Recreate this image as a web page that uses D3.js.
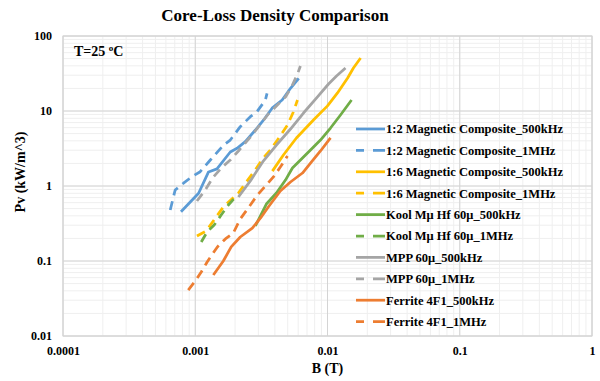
<!DOCTYPE html>
<html>
<head>
<meta charset="utf-8">
<script src="https://cdn.jsdelivr.net/npm/d3@7"></script>
<style>
  body { margin: 0; background: #fff; }
  text { font-family: "Liberation Serif", "Times New Roman", serif; font-weight: bold; fill: #000; }
</style>
</head>
<body>
<div id="chart"></div>
<script>
// data: [B (T), Pv (kW/m^3)]
var mc12_500k = [[0.00078,0.454],[0.00106,0.80],[0.00126,1.54],[0.00146,1.69],[0.00184,2.84],[0.00207,3.18],[0.00239,3.90],[0.00285,5.58],[0.00329,7.59],[0.00381,10.9],[0.00454,14.0],[0.00525,20.1],[0.00606,27.3]];
var mc12_1M = [[0.000647,0.479],[0.000705,0.885],[0.000815,1.09],[0.000944,1.33],[0.00109,1.55],[0.0013,2.22],[0.00164,3.52],[0.00184,4.1],[0.00219,6.18],[0.00261,8.4],[0.00293,9.8],[0.00339,14.0],[0.00349,17.2]];
var mc16_500k = [[0.00383,1.58],[0.00464,2.59],[0.00582,4.37],[0.00783,7.59],[0.01,11.7],[0.0119,17.4],[0.0142,27.5],[0.0157,37.4],[0.0178,50.9]];
var mc16_1M = [[0.00103,0.215],[0.00121,0.251],[0.00163,0.525],[0.00212,0.807],[0.00243,1.13],[0.0028,1.58],[0.00327,2.36],[0.0037,3.02],[0.00418,4.1],[0.00498,6.5],[0.00552,9.7],[0.00593,14.0]];
var kool_500k = [[0.00285,0.293],[0.00345,0.575],[0.00411,0.807],[0.00481,1.2],[0.00543,1.74],[0.00647,2.36],[0.00744,3.02],[0.00885,4.1],[0.01054,5.93],[0.01254,8.85],[0.0152,14.0]];
var kool_1M = [[0.00111,0.179],[0.00123,0.244],[0.00139,0.302],[0.00157,0.41],[0.00178,0.558],[0.00205,0.736]];
var mpp_500k = [[0.00212,0.714],[0.00261,1.17],[0.00327,2.15],[0.00411,3.52],[0.00525,5.75],[0.00658,9.4],[0.0084,15.4],[0.01018,22.9],[0.0117,29.3],[0.01368,37.4]];
var mpp_1M = [[0.00103,0.631],[0.00119,0.885],[0.00137,1.32],[0.0016,1.79],[0.00184,2.22],[0.00212,2.93],[0.00261,4.5],[0.003,6.12],[0.00357,9.12],[0.00418,12.0],[0.00481,15.4],[0.00534,20.9],[0.00593,31.1],[0.00624,39.8]];
var ferrite_500k = [[0.00137,0.065],[0.00163,0.1],[0.00187,0.154],[0.00219,0.209],[0.0027,0.275],[0.00312,0.375],[0.00357,0.525],[0.0044,0.858],[0.00525,1.13],[0.00647,1.49],[0.00757,2.09],[0.00885,2.93],[0.01054,4.37]];
var ferrite_1M = [[0.000885,0.041],[0.001,0.054],[0.00111,0.0713],[0.00123,0.097],[0.00135,0.124],[0.00147,0.154],[0.00169,0.197],[0.00194,0.236],[0.00219,0.363],[0.00261,0.558],[0.00295,0.758],[0.00339,1.0],[0.0039,1.32],[0.0044,1.79],[0.00498,2.51]];

var seriesNames = ["1:2 Magnetic Composite_500kHz", "1:2 Magnetic Composite_1MHz",
  "1:6 Magnetic Composite_500kHz", "1:6 Magnetic Composite_1MHz",
  "Kool M\u03bc Hf 60\u03bc_500kHz", "Kool M\u03bc Hf 60\u03bc_1MHz",
  "MPP 60\u03bc_500kHz", "MPP 60\u03bc_1MHz",
  "Ferrite 4F1_500kHz", "Ferrite 4F1_1MHz"];
var seriesData = [mc12_500k, mc12_1M, mc16_500k, mc16_1M, kool_500k, kool_1M, mpp_500k, mpp_1M, ferrite_500k, ferrite_1M];

var xTicks = [0.0001, 0.001, 0.01, 0.1, 1];
var xTickLabels = ["0.0001", "0.001", "0.01", "0.1", "1"];
var yTicks = [0.01, 0.1, 1, 10, 100];
var yTickLabels = ["0.01", "0.1", "1", "10", "100"];

var colors = ["#5B9BD5", "#5B9BD5", "#FFC000", "#FFC000", "#70AD47", "#70AD47", "#A5A5A5", "#A5A5A5", "#ED7D31", "#ED7D31"];

//SVG dimension and plot area
var svgWidth = 600;
var svgHeight = 381;
var margin = { top: 36, right: 8, bottom: 45, left: 63 };
var width = svgWidth - margin.left - margin.right;
var height = svgHeight - margin.top - margin.bottom;

var svg = d3.select("#chart")
  .append("svg")
  .attr("width", svgWidth)
  .attr("height", svgHeight);

var chartGroup = svg.append("g")
  .attr("transform", `translate(${margin.left}, ${margin.top})`);

//Scales
var xScale = d3.scaleLog().domain([0.0001, 1]).range([0, width]);
var yScale = d3.scaleLog().domain([0.01, 100]).range([height, 0]);

//Minor and major grid
chartGroup.append("g")
  .selectAll("line")
  .data(xScale.ticks())
  .enter()
  .append("line")
  .attr("x1", d => xScale(d)).attr("x2", d => xScale(d))
  .attr("y1", 0).attr("y2", height)
  .attr("stroke", "#efefef");

chartGroup.append("g")
  .selectAll("line")
  .data(yScale.ticks())
  .enter()
  .append("line")
  .attr("y1", d => yScale(d)).attr("y2", d => yScale(d))
  .attr("x1", 0).attr("x2", width)
  .attr("stroke", "#efefef");

chartGroup.append("g")
  .selectAll("line")
  .data(xTicks)
  .enter()
  .append("line")
  .attr("x1", d => xScale(d)).attr("x2", d => xScale(d))
  .attr("y1", 0).attr("y2", height)
  .attr("stroke", "#d4d4d4");

chartGroup.append("g")
  .selectAll("line")
  .data(yTicks)
  .enter()
  .append("line")
  .attr("y1", d => yScale(d)).attr("y2", d => yScale(d))
  .attr("x1", 0).attr("x2", width)
  .attr("stroke", "#d4d4d4");

chartGroup.append("rect")
  .attr("width", width)
  .attr("height", height)
  .attr("fill", "none")
  .attr("stroke", "#d4d4d4");

//Axes
var bottomAxis = d3.axisBottom(xScale)
  .tickValues(xTicks)
  .tickFormat((d, i) => xTickLabels[i])
  .tickSize(0)
  .tickPadding(10);
var leftAxis = d3.axisLeft(yScale)
  .tickValues(yTicks)
  .tickFormat((d, i) => yTickLabels[i])
  .tickSize(0)
  .tickPadding(11);

var xAxisG = chartGroup.append("g")
  .attr("transform", `translate(0, ${height})`)
  .call(bottomAxis);
var yAxisG = chartGroup.append("g")
  .call(leftAxis);
[xAxisG, yAxisG].forEach(function(g) {
  g.select(".domain").remove();
  g.selectAll("text")
    .attr("font-family", "Liberation Serif")
    .attr("font-weight", "bold")
    .attr("font-size", "12px")
    .attr("fill", "#000");
});

//Lines
var line = d3.line()
  .x(d => xScale(d[0]))
  .y(d => yScale(d[1]));

seriesData.forEach(function(data, i) {
  chartGroup.append("path")
    .datum(data)
    .attr("d", line)
    .attr("fill", "none")
    .attr("stroke", colors[i])
    .attr("stroke-width", 2.75)
    .attr("stroke-linejoin", "round")
    .attr("stroke-dasharray", i % 2 ? "9,6" : null);
});

//Legend
var legend = svg.append("g")
  .attr("transform", "translate(356, 129)");
var legendRows = legend.selectAll("g")
  .data(seriesNames)
  .enter()
  .append("g")
  .attr("transform", (d, i) => `translate(0, ${i * 21.4})`);
legendRows.append("line")
  .attr("x1", 0).attr("x2", 29)
  .attr("stroke", (d, i) => colors[i])
  .attr("stroke-width", 2.75)
  .attr("stroke-dasharray", (d, i) => i % 2 ? "8,9,12" : null);
legendRows.append("text")
  .attr("x", 30)
  .attr("dy", "0.35em")
  .attr("font-size", "12.5px")
  .text(d => d);

//Titles
svg.append("text")
  .attr("x", 275)
  .attr("y", 21)
  .attr("text-anchor", "middle")
  .attr("font-size", "17px")
  .text("Core-Loss Density Comparison");

svg.append("text")
  .attr("transform", "rotate(-90)")
  .attr("x", -172)
  .attr("y", 25)
  .attr("text-anchor", "middle")
  .attr("font-size", "14px")
  .text("Pv (kW/m^3)");

svg.append("text")
  .attr("x", margin.left + width / 2)
  .attr("y", 373)
  .attr("text-anchor", "middle")
  .attr("font-size", "14px")
  .text("B (T)");

var tLabel = svg.append("text")
  .attr("x", 74)
  .attr("y", 56)
  .attr("font-size", "14px");
tLabel.append("tspan").text("T=25 ");
tLabel.append("tspan").attr("font-size", "9px").attr("dy", -5).text("o");
tLabel.append("tspan").attr("dy", 5).text("C");
</script>
</body>
</html>
